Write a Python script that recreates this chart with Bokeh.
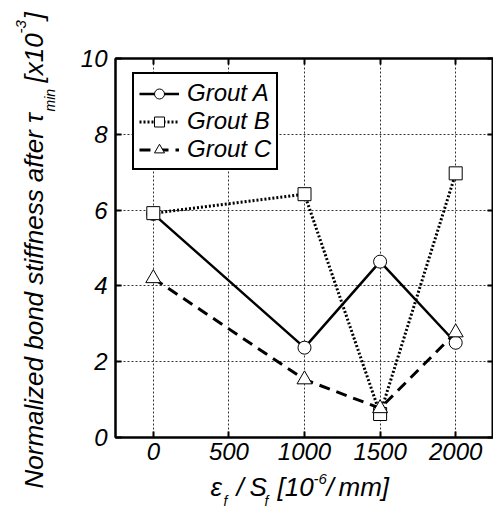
import math
from bokeh.plotting import figure
from bokeh.models import (FixedTicker, LinearAxis, Legend, LegendItem,
                          CustomJSTickFormatter)
from bokeh.layouts import row, column
from bokeh.core.properties import value
from bokeh.embed import file_html
from bokeh.resources import INLINE

# ---- data ----
x_vals = [0, 1000, 1500, 2000]
grout_a = [5.90, 2.37, 4.64, 2.50]
grout_b = [5.92, 6.42, 0.62, 6.97]
grout_c = [4.20, 1.53, 0.77, 2.77]
x_ticks = [0, 500, 1000, 1500, 2000]
y_ticks = [0, 2, 4, 6, 8, 10]
series_names = ["Grout A", "Grout B", "Grout C"]

FONT = "Liberation Sans"
W, H = 493, 509
LW = 62            # left strip (y title) width
BH = 40            # bottom strip (x title) height
MW, MH = W - LW, H - BH
FL, FR, FT, FB = 115, 493, 58, 437   # frame edges in window pixels

# ---------------- main chart ----------------
p = figure(width=MW, height=MH, x_range=(-250, 2250), y_range=(0, 10),
           output_backend="svg", toolbar_location=None,
           min_border_left=FL - LW, min_border_right=0,
           min_border_top=FT, min_border_bottom=MH - FB)
p.background_fill_color = "white"
p.border_fill_color = "white"
p.outline_line_color = "black"
p.outline_line_width = 2

for ax in (p.xaxis[0], p.yaxis[0]):
    ax.major_tick_in = 6
    ax.major_tick_out = 0
    ax.minor_tick_line_color = None
    ax.major_tick_line_width = 2
    ax.axis_line_width = 2
    ax.major_label_text_font = FONT
    ax.major_label_text_font_style = "italic"
    ax.major_label_text_font_size = "24px"
    ax.major_label_text_color = "black"
p.xaxis[0].ticker = FixedTicker(ticks=x_ticks)
p.yaxis[0].ticker = FixedTicker(ticks=y_ticks)
p.xaxis[0].major_label_standoff = 5
p.yaxis[0].major_label_standoff = 8

blank = CustomJSTickFormatter(code="return ''")
top_ax = LinearAxis(ticker=FixedTicker(ticks=x_ticks), formatter=blank,
                    major_tick_in=6, major_tick_out=0, major_tick_line_width=2,
                    minor_tick_line_color=None, axis_line_width=2,
                    major_label_standoff=0)
right_ax = LinearAxis(ticker=FixedTicker(ticks=y_ticks), formatter=blank,
                      major_tick_in=6, major_tick_out=0, major_tick_line_width=2,
                      minor_tick_line_color=None, axis_line_width=2,
                      major_label_standoff=0)
p.add_layout(top_ax, "above")
p.add_layout(right_ax, "right")

p.xgrid.ticker = FixedTicker(ticks=x_ticks)
p.ygrid.ticker = FixedTicker(ticks=y_ticks)
for g in (p.xgrid, p.ygrid):
    g.grid_line_color = "#333333"
    g.grid_line_alpha = 1.0
    g.grid_line_width = 1
    g.grid_line_dash = "2 2"

la = p.line(x_vals, grout_a, line_color="black", line_width=2.5)
lb = p.line(x_vals, grout_b, line_color="black", line_width=3, line_dash="2 2")
lc = p.line(x_vals, grout_c, line_color="black", line_width=3, line_dash="11 7")
sa = p.scatter(x_vals, grout_a, marker="circle", size=13, fill_color="white",
               line_color="black", line_width=1)
sb = p.scatter(x_vals, grout_b, marker="square", size=13, fill_color="white",
               line_color="black", line_width=1)
sc = p.scatter(x_vals, grout_c, marker="triangle", size=15, fill_color="white",
               line_color="black", line_width=1)

legend = Legend(items=[LegendItem(label=series_names[0], renderers=[la, sa]),
                       LegendItem(label=series_names[1], renderers=[lb, sb]),
                       LegendItem(label=series_names[2], renderers=[lc, sc])],
                location=(17, 267))
legend.label_text_font = FONT
legend.label_text_font_style = "italic"
legend.label_text_font_size = "24px"
legend.label_text_color = "black"
legend.glyph_width = 40
legend.glyph_height = 25
legend.label_height = 25
legend.spacing = 0
legend.padding = 5
legend.label_standoff = 8
legend.border_line_color = "black"
legend.border_line_width = 2
legend.border_line_alpha = 1.0
legend.background_fill_alpha = 1.0
p.add_layout(legend, "center")

MID = 0.34   # distance from text "middle" anchor to the alphabetic baseline, in em


def strip(w, h, xr, yr, **borders):
    f = figure(width=w, height=h, x_range=xr, y_range=yr,
               output_backend="svg", toolbar_location=None,
               x_axis_type=None, y_axis_type=None, min_border=0, **borders)
    f.grid.visible = False
    f.outline_line_color = None
    f.background_fill_color = "white"
    f.border_fill_color = "white"
    return f


def put(f, pieces, rotated=False):
    # pieces: (text, window x, window y, font px); the x (rotated) or y
    # (horizontal) given is the text baseline in window pixels.
    for text, px, py, size in pieces:
        if rotated:
            ax, ay, ang = px - MID * size, py, math.pi / 2
        else:
            ax, ay, ang = px, py - MID * size, 0.0
        f.text(x=[ax], y=[H - ay], text=[text], angle=ang,
               text_font=value(FONT), text_font_style="italic",
               text_font_size=value(f"{size}px"), text_color="black",
               text_align="left", text_baseline="middle")


# ---- y title: left strip, data coords = window pixels (y from bottom) ----
left = strip(LW, H, (0, LW), (0, H))
put(left, [
    ("Normalized bond stiffness after \u03c4", 42, 488, 26),
    ("min", 54, 111, 14),
    ("[x10", 42, 82, 26),
    ("-3", 26, 33, 15),
    ("]", 42, 19, 26),
], rotated=True)

# ---- x title: bottom strip, frame aligned with the chart frame ----
bottom = strip(MW, BH, (FL, FR), (0, BH),
               min_border_left=FL - LW, min_border_right=0)
put(bottom, [
    ("\u03b5", 210, 495, 26),
    ("f", 223, 505, 14),
    ("/", 236, 495, 26),
    ("S", 249, 495, 26),
    ("f", 264, 505, 14),
    ("[10", 277, 495, 26),
    ("-6", 313, 484, 15),
    ("/", 326, 495, 26),
    ("mm]", 338, 495, 26),
])

layout = row(left, column(p, bottom))
open("out.html", "w").write(file_html(layout, INLINE))
